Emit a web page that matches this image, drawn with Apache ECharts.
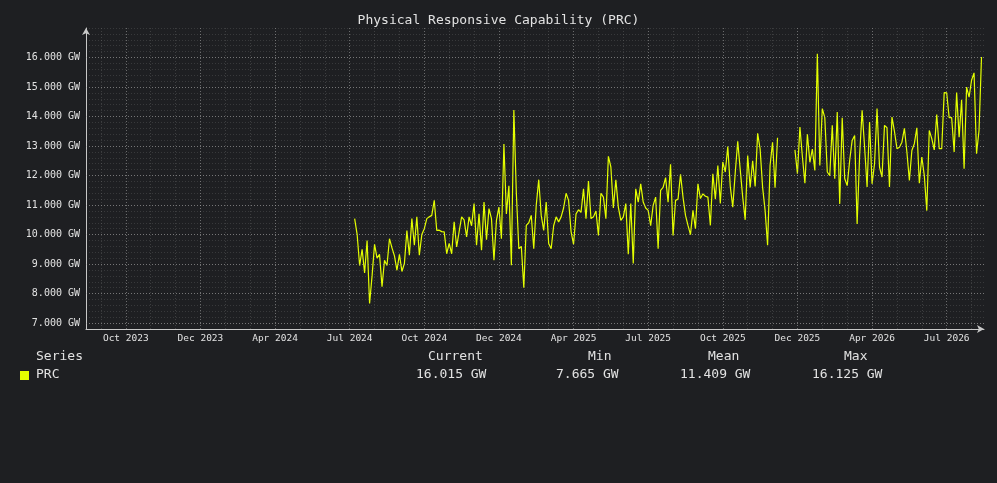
<!DOCTYPE html>
<html>
<head>
<meta charset="utf-8">
<title>PRC</title>
<script src="https://cdn.jsdelivr.net/npm/echarts@6/dist/echarts.min.js"></script>
<style>
  html, body { margin: 0; padding: 0; background: #1e1f22; }
  #chart { width: 997px; height: 483px; }
</style>
</head>
<body>
<div id="chart"></div>
<script>
// x axis: one category per sample slot
const slotCount = 362
const firstSlot = 108

// tick labels along the bottom
const xTickLabels = ['Oct 2023', 'Dec 2023', 'Apr 2024', 'Jul 2024', 'Oct 2024', 'Dec 2024',
  'Apr 2025', 'Jul 2025', 'Oct 2025', 'Dec 2025', 'Apr 2026', 'Jul 2026']
const firstLabelSlot = 16
const labelStep = 30
const minorStep = 10
const yTicks = [7, 8, 9, 10, 11, 12, 13, 14, 15, 16]

// PRC in GW, starting at firstSlot (null = no data)
const prcValues = [
  10.54, 10.0, 8.95, 9.5, 8.7, 9.8, 7.665, 8.6, 9.67, 9.2,
  9.33, 8.23, 9.13, 8.95, 9.86, 9.55, 9.28, 8.79, 9.33, 8.75,
  9.02, 10.14, 9.3, 10.54, 9.64, 10.6, 9.3, 10.0, 10.2, 10.54,
  10.6, 10.65, 11.16, 10.14, 10.15, 10.1, 10.09, 9.35, 9.7, 9.35,
  10.43, 9.58, 10.1, 10.6, 10.5, 9.92, 10.6, 10.3, 11.05, 9.64,
  10.7, 9.47, 11.1, 9.83, 10.88, 10.54, 9.13, 10.48, 10.93, 9.86,
  13.07, 10.7, 11.65, 8.96, 14.22, 11.4, 9.52, 9.6, 8.2, 10.31,
  10.4, 10.65, 9.52, 10.99, 11.86, 10.65, 10.14, 11.1, 9.7, 9.52,
  10.3, 10.6, 10.43, 10.6, 10.9, 11.4, 11.16, 10.1, 9.67, 10.7,
  10.84, 10.75, 11.55, 10.54, 11.81, 10.54, 10.6, 10.8, 9.97, 11.4,
  11.27, 10.54, 12.65, 12.29, 10.9, 11.86, 10.93, 10.48, 10.6, 11.05,
  9.33, 11.05, 9.02, 11.55, 11.1, 11.72, 11.1, 10.9, 10.82, 10.3,
  10.99, 11.27, 9.52, 11.5, 11.6, 11.93, 11.1, 12.38, 9.97, 11.16,
  11.2, 12.04, 11.27, 10.65, 10.31, 10.0, 10.82, 10.2, 11.72, 11.22,
  11.38, 11.3, 11.27, 10.31, 12.06, 11.2, 12.34, 11.05, 12.46, 12.12,
  12.98, 11.63, 10.93, 12.1, 13.16, 12.2, 11.27, 10.5, 12.68, 11.6,
  12.5, 11.63, 13.43, 12.9, 11.6, 10.82, 9.64, 12.34, 13.13, 11.59,
  13.28,
  null, null, null, null, null, null,
  12.87, 12.06, 13.64, 12.63, 11.74, 13.4, 12.45, 12.9, 12.17, 16.125,
  12.34, 14.27, 13.96, 12.12, 12.0, 13.7, 11.89, 14.15, 11.04, 13.96,
  11.9, 11.66, 12.51, 13.19, 13.36, 10.36, 12.68, 14.21, 12.96, 11.61,
  13.81, 11.72, 12.4, 14.27, 12.29, 11.95, 13.7, 13.62, 11.61, 13.98,
  13.5, 12.91, 12.96, 13.13, 13.6, 12.8, 11.83, 12.85, 13.08, 13.62,
  11.74, 12.63, 12.0, 10.81, 13.53, 13.25, 12.87, 14.07, 12.91, 12.91,
  14.81, 14.8, 13.96, 13.96, 12.8, 14.81, 13.3, 14.57, 12.23, 15.0,
  14.66, 15.23, 15.48, 12.74, 13.53, 16.015
]

// summary table under the plot
const statNames = ['Current', 'Min', 'Mean', 'Max']
const statValues = ['16.015 GW', '7.665 GW', '11.409 GW', '16.125 GW']

const mono = 'DejaVu Sans Mono'
const textColor = '#e2e2e2'
const lineColor = '#e4ff00'

let categories = []
let seriesData = []
for (let i = 0; i < slotCount; i++) {
  categories.push(String(i))
  let k = i - firstSlot
  seriesData.push(k >= 0 && k < prcValues.length ? prcValues[k] : null)
}

let labelAt = {}
xTickLabels.forEach((t, n) => { labelAt[firstLabelSlot + n * labelStep] = t })

const isMinor = i => (i - firstLabelSlot) % minorStep === 0 && labelAt[i] === undefined

let gridLines = yTicks.map(v => ({ yAxis: v }))
  .concat(Object.keys(labelAt).map(i => ({ xAxis: String(i) })))

let chart = echarts.init(document.getElementById('chart'))
chart.setOption({
  backgroundColor: '#1e1f22',
  animation: false,
  title: {
    text: 'Physical Responsive Capability (PRC)',
    left: 'center',
    top: 9,
    textStyle: { fontFamily: mono, fontSize: 13, fontWeight: 'normal', color: textColor }
  },
  grid: { left: 86, right: 13, top: 28, bottom: 154 },
  xAxis: {
    type: 'category',
    data: categories,
    boundaryGap: false,
    axisLine: {
      lineStyle: { color: '#c8c8c8', width: 1 },
      symbol: ['none', 'arrow'],
      symbolSize: [6, 7]
    },
    axisTick: { show: false },
    axisLabel: {
      interval: i => labelAt[i] !== undefined,
      formatter: (v, i) => labelAt[i] || '',
      fontFamily: mono,
      fontSize: 9.5,
      color: textColor,
      margin: 5
    },
    splitLine: {
      show: true,
      interval: i => isMinor(i),
      lineStyle: { color: 'rgba(120,120,120,0.35)', type: [1, 2], width: 1 }
    }
  },
  yAxis: {
    type: 'value',
    min: 6.8,
    max: 17,
    interval: 0.2,
    axisLine: {
      show: true,
      lineStyle: { color: '#c8c8c8', width: 1 },
      symbol: ['none', 'arrow'],
      symbolSize: [6, 7]
    },
    axisTick: { show: false },
    axisLabel: {
      formatter: v => Math.abs(v - Math.round(v)) < 1e-6 && yTicks.includes(Math.round(v))
        ? Math.round(v).toFixed(3) + ' GW' : '',
      fontFamily: mono,
      fontSize: 10,
      color: textColor,
      margin: 6
    },
    splitLine: {
      show: true,
      lineStyle: { color: 'rgba(120,120,120,0.3)', type: [1, 2], width: 1 }
    }
  },
  series: [
    {
      // major grid lines
      type: 'line',
      data: [],
      silent: true,
      z: 1,
      markLine: {
        silent: true,
        symbol: 'none',
        label: { show: false },
        lineStyle: { color: 'rgba(170,170,170,0.55)', type: [1, 2], width: 1 },
        data: gridLines
      }
    },
    {
      name: 'PRC',
      type: 'line',
      data: seriesData,
      z: 3,
      showSymbol: false,
      connectNulls: false,
      lineStyle: { color: lineColor, width: 1.2 },
      itemStyle: { color: lineColor }
    }
  ],
  graphic: [
    { type: 'text', left: 36, top: 350, style: { text: 'Series', font: '13px ' + mono, fill: textColor } },
    { type: 'rect', shape: { x: 20, y: 371, width: 9, height: 9 }, style: { fill: lineColor } },
    { type: 'text', left: 36, top: 368, style: { text: 'PRC', font: '13px ' + mono, fill: textColor } },
    { type: 'text', left: 428, top: 350, style: { text: statNames[0], font: '13px ' + mono, fill: textColor } },
    { type: 'text', left: 588, top: 350, style: { text: statNames[1], font: '13px ' + mono, fill: textColor } },
    { type: 'text', left: 708, top: 350, style: { text: statNames[2], font: '13px ' + mono, fill: textColor } },
    { type: 'text', left: 844, top: 350, style: { text: statNames[3], font: '13px ' + mono, fill: textColor } },
    { type: 'text', left: 416, top: 368, style: { text: statValues[0], font: '13px ' + mono, fill: textColor } },
    { type: 'text', left: 556, top: 368, style: { text: statValues[1], font: '13px ' + mono, fill: textColor } },
    { type: 'text', left: 680, top: 368, style: { text: statValues[2], font: '13px ' + mono, fill: textColor } },
    { type: 'text', left: 812, top: 368, style: { text: statValues[3], font: '13px ' + mono, fill: textColor } }
  ]
})
</script>
</body>
</html>
